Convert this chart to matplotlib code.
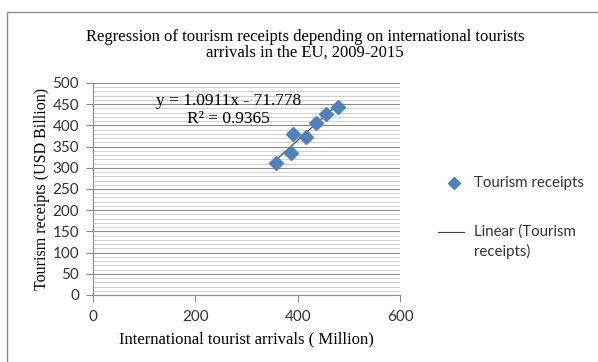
import numpy as np
import matplotlib.pyplot as plt
from matplotlib.patches import Rectangle
from matplotlib.lines import Line2D

# arrivals (million) vs receipts (USD billion), EU 2009-2015
arrivals = [358, 386, 391, 416, 435, 455, 479]
receipts = [311, 336, 380, 373, 405, 428, 444]

slope = 1.0911
intercept = -71.778
r_squared = 0.9365

serif = 'Liberation Serif'
sans = 'Lato'

fig = plt.figure(figsize=(5.98, 3.62), dpi=100)
fig.patch.set_facecolor('white')

# chart frame
fig.patches.append(Rectangle((7 / 598, -0.1), 1.2, 1 - 12 / 362 + 0.1,
                             transform=fig.transFigure, fill=False,
                             edgecolor='#8c8c8c', linewidth=1.0))

ax = fig.add_axes([93 / 598, 1 - 295 / 362, (400 - 93) / 598, (295 - 83) / 362])
ax.set_xlim(0, 600)
ax.set_ylim(0, 500)
ax.set_xticks(np.arange(0, 601, 200))
ax.set_yticks(np.arange(0, 501, 50))
ax.set_yticks(np.arange(0, 501, 10), minor=True)
ax.grid(which='major', axis='y', color='#8a8a8a', linewidth=0.8)
ax.grid(which='minor', axis='y', color='#cfcfcf', linewidth=0.7)
ax.set_axisbelow(True)
for s in ['top', 'right']:
    ax.spines[s].set_visible(False)
for s in ['left', 'bottom']:
    ax.spines[s].set_color('#8a8a8a')
    ax.spines[s].set_linewidth(0.8)
ax.tick_params(which='major', direction='out', length=5, color='#8a8a8a',
               labelsize=11, labelcolor='#333333')
ax.tick_params(axis='x', pad=6)
ax.tick_params(axis='y', pad=5)
ax.tick_params(which='minor', length=0)
for lab in ax.get_xticklabels() + ax.get_yticklabels():
    lab.set_family(sans)

ax.set_xlabel('International tourist arrivals ( Million)', family=serif,
              fontsize=12, labelpad=5)
ax.set_ylabel('Tourism receipts (USD Billion)', family=serif,
              fontsize=11.5, labelpad=2)

# trendline from fitted coefficients
xs = np.array([min(arrivals), max(arrivals)])
ax.plot(xs, slope * xs + intercept, color='#404040', linewidth=0.8, zorder=3)
ax.plot(arrivals, receipts, linestyle='none', marker='D', markersize=7,
        color='#4f81bd', markeredgecolor='#4f81bd', zorder=4)

ax.text(265, 458, f'y = {slope}x - {abs(intercept)}', ha='center', va='center',
        family=serif, fontsize=12.5)
ax.text(265, 416, f'R\u00b2 = {r_squared}', ha='center', va='center',
        family=serif, fontsize=12.5)

fig.text(305 / 598, 1 - 37 / 362,
         'Regression of tourism receipts depending on international tourists',
         ha='center', va='center', family=serif, fontsize=12)
fig.text(305 / 598, 1 - 53 / 362, 'arrivals in the EU, 2009-2015',
         ha='center', va='center', family=serif, fontsize=12)

# legend
fig.add_artist(Line2D([454 / 598], [1 - 183 / 362], marker='D', markersize=6,
                      color='#4f81bd', linestyle='none',
                      transform=fig.transFigure))
fig.text(474 / 598, 1 - 183 / 362, 'Tourism receipts', va='center',
         family=sans, fontsize=10.8, color='#333333')
fig.add_artist(Line2D([438 / 598, 464 / 598], [1 - 232 / 362, 1 - 232 / 362],
                      color='#404040', linewidth=0.8,
                      transform=fig.transFigure))
fig.text(474 / 598, 1 - 232 / 362, 'Linear (Tourism', va='center',
         family=sans, fontsize=10.8, color='#333333')
fig.text(474 / 598, 1 - 251 / 362, 'receipts)', va='center',
         family=sans, fontsize=10.8, color='#333333')

fig.savefig('out.png', dpi=100)
